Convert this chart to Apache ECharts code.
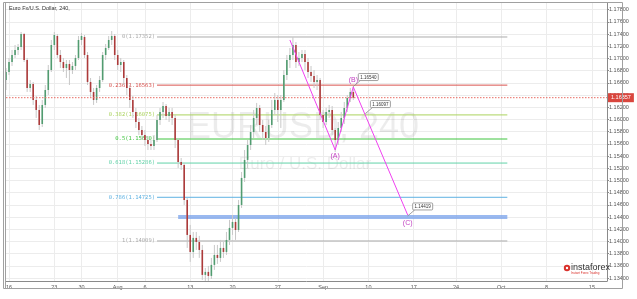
<!DOCTYPE html>
<html><head><meta charset="utf-8">
<script src="https://cdn.jsdelivr.net/npm/echarts@6/dist/echarts.min.js"></script>
<style>html,body{margin:0;padding:0;background:#fff}#c{width:637px;height:299px}</style>
</head><body><div id="c"></div>
<script>
// ---------- data ----------
const categoryCount = 200;
const xTickIndex = [1,16,25,37,46,61,75,90,105,120,135,149,164,179,194];
const xTickLabels = ['16','23','30','Aug','6','13','20','27','Sep','10','17','24','Oct','8','15'];
const yTicks = [1.134,1.136,1.138,1.140,1.142,1.144,1.146,1.148,1.150,1.152,1.154,1.156,1.158,1.160,1.162,1.164,1.166,1.168,1.170,1.172,1.174,1.176,1.178];
const yMin = 1.13353, yMax = 1.17909;
// [open, close, low, high]
const candles = [
[1.16647,1.16778,1.16483,1.16844],[1.16778,1.16942,1.16729,1.17008],[1.16942,1.17057,1.16877,1.17139],[1.17057,1.17139,1.17008,1.17221],
[1.17139,1.17188,1.17057,1.17237],[1.17188,1.17401,1.17139,1.17434],[1.17401,1.16975,1.16942,1.17418],[1.16975,1.16516,1.16451,1.17008],
[1.16516,1.16582,1.16451,1.16647],[1.16582,1.16320,1.16238,1.16615],[1.16320,1.16156,1.16025,1.16385],[1.16156,1.15910,1.15828,1.16238],
[1.15926,1.16238,1.15877,1.16320],[1.16238,1.16483,1.16189,1.16565],[1.16483,1.16811,1.16401,1.16893],[1.16811,1.17221,1.16778,1.17303],
[1.17221,1.17385,1.17139,1.17434],[1.17368,1.17057,1.17008,1.17401],[1.17057,1.16942,1.16844,1.17139],[1.16942,1.16844,1.16778,1.17008],
[1.16844,1.16910,1.16680,1.16975],[1.16910,1.16811,1.16565,1.16975],[1.16811,1.16877,1.16746,1.16942],[1.16877,1.17008,1.16811,1.17057],
[1.17008,1.17303,1.16975,1.17368],[1.17303,1.17368,1.17221,1.17418],[1.17352,1.17057,1.17008,1.17385],[1.17057,1.16615,1.16565,1.17106],
[1.16615,1.16451,1.16369,1.16680],[1.16451,1.16320,1.16238,1.16516],[1.16320,1.16516,1.16271,1.16565],[1.16516,1.16647,1.16451,1.16713],
[1.16647,1.17057,1.16615,1.17106],[1.17057,1.17172,1.16975,1.17237],[1.17172,1.17303,1.17139,1.17368],[1.17303,1.17368,1.17221,1.17450],
[1.17368,1.17057,1.16975,1.17401],[1.17057,1.16893,1.16811,1.17139],[1.16893,1.16942,1.16778,1.17008],[1.16942,1.16680,1.16565,1.16975],
[1.16680,1.16516,1.16401,1.16729],[1.16516,1.16320,1.16189,1.16565],[1.16320,1.16123,1.16025,1.16385],[1.16123,1.15959,1.15861,1.16189],
[1.15959,1.15828,1.15746,1.16025],[1.15828,1.15746,1.15664,1.15893],[1.15746,1.15664,1.15566,1.15828],[1.15664,1.15599,1.15500,1.15730],
[1.15599,1.15566,1.15500,1.15664],[1.15566,1.15664,1.15500,1.15746],[1.15664,1.15992,1.15631,1.16074],[1.15992,1.16123,1.15910,1.16189],
[1.16123,1.16221,1.16025,1.16287],[1.16221,1.16058,1.15992,1.16254],[1.16058,1.16123,1.15959,1.16189],[1.16123,1.16025,1.15910,1.16189],
[1.16025,1.15664,1.15533,1.16074],[1.15664,1.15304,1.15205,1.15697],[1.15304,1.15255,1.15173,1.15369],[1.15255,1.14681,1.14599,1.15288],
[1.14681,1.14108,1.13895,1.14714],[1.14108,1.13829,1.13666,1.14272],[1.13829,1.14059,1.13731,1.14157],[1.14059,1.13993,1.13862,1.14157],
[1.13993,1.13862,1.13731,1.14092],[1.13862,1.13453,1.13371,1.13944],[1.13453,1.13502,1.13354,1.13567],[1.13502,1.13436,1.13354,1.13600],
[1.13436,1.13617,1.13387,1.13731],[1.13617,1.13780,1.13535,1.13944],[1.13780,1.13731,1.13633,1.13944],[1.13731,1.13895,1.13666,1.14026],
[1.13895,1.13829,1.13731,1.13993],[1.13829,1.14026,1.13780,1.14157],[1.14026,1.14223,1.13944,1.14354],[1.14223,1.14321,1.14108,1.14435],
[1.14321,1.14189,1.14026,1.14386],[1.14189,1.14599,1.14157,1.14681],[1.14599,1.15042,1.14550,1.15140],[1.15042,1.15337,1.14976,1.15500],
[1.15337,1.15582,1.15205,1.15664],[1.15582,1.15795,1.15500,1.15910],[1.15795,1.16025,1.15697,1.16156],[1.16025,1.16189,1.15910,1.16271],
[1.16189,1.15910,1.15795,1.16238],[1.15910,1.15795,1.15664,1.15992],[1.15795,1.15697,1.15582,1.15893],[1.15697,1.15910,1.15631,1.15992],
[1.15910,1.16156,1.15861,1.16320],[1.16156,1.16320,1.16074,1.16434],[1.16320,1.16156,1.15959,1.16401],[1.16156,1.16320,1.15861,1.16401],
[1.16320,1.16729,1.16287,1.16811],[1.16729,1.16975,1.16647,1.17057],[1.16975,1.17057,1.16844,1.17172],[1.17057,1.17221,1.16975,1.17352],
[1.17221,1.16942,1.16844,1.17270],[1.16942,1.17008,1.16877,1.17106],[1.17008,1.17073,1.16942,1.17139],[1.17073,1.16942,1.16811,1.17139],
[1.16942,1.16778,1.16680,1.17008],[1.16778,1.16713,1.16615,1.16877],[1.16713,1.16615,1.16516,1.16811],[1.16615,1.16647,1.16483,1.16729],
[1.16647,1.16074,1.15992,1.16680],[1.16074,1.15959,1.15861,1.16156],[1.15959,1.16123,1.15910,1.16189],[1.16123,1.16156,1.16025,1.16238],
[1.16156,1.15828,1.15746,1.16221],[1.15828,1.15664,1.15468,1.15861],[1.15664,1.15861,1.15582,1.15959],[1.15861,1.16025,1.15795,1.16123],
[1.16025,1.16189,1.15926,1.16287],[1.16189,1.16352,1.16123,1.16401],[1.16352,1.16451,1.16287,1.16516],[1.16451,1.16357,1.16320,1.16549]
];
const fibRatios = ['0','0.236','0.382','0.5','0.618','0.786','1'];
const fibPrices = [1.17352,1.16563,1.16075,1.15680,1.15286,1.14725,1.14009];
const fibColors = ['#ababab','#d9534f','#abd35e','#3fc43f','#62d2a8','#5fb2e2','#ababab'];
const fibStart = 50, fibEnd = 166;
const supportBand = [1.14369, 1.14435];
const bandStart = 57;
const currentPrice = 1.16357;
const waveX = [94,109,115,133];
const waveY = [1.17303,1.15500,1.16533,1.14435];
const waveLabels = ['','(A)','(B)','(C)'];
const calloutX = [115,119,133];
const calloutY = [1.16540,1.16097,1.14419];

// ---------- chart ----------
const categories = Array.from({length: categoryCount}, (_, i) => {
  const k = xTickIndex.indexOf(i); return k >= 0 ? xTickLabels[k] : '';
});
const tickSet = new Set(xTickIndex);
const chart = echarts.init(document.getElementById('c'), null, {renderer: 'canvas'});
const fmt = v => Number(v).toFixed(5);
const hiddenSym = {symbol: 'circle', symbolSize: 0.01, showSymbol: true, showAllSymbol: true};

const fibSeries = fibPrices.map((p, k) => Object.assign({
  type: 'line', name: 'fib' + fibRatios[k], z: 2, silent: true,
  lineStyle: {color: fibColors[k], width: 1},
  itemStyle: {color: fibColors[k]},
  data: [
    {value: [fibStart, p], label: {show: true, position: 'left', distance: 2, formatter: fibRatios[k] + '(' + fmt(p) + ')',
      color: fibColors[k], fontSize: 5.5, fontFamily: 'DejaVu Sans Mono'}},
    {value: [fibEnd, p]}
  ]
}, hiddenSym));

const option = {
  animation: false,
  grid: {left: 6, right: 30, top: 3, bottom: 18, show: false},
  xAxis: {
    type: 'category', data: categories, boundaryGap: false,
    axisLine: {show: true, lineStyle: {color: '#8a8a8a'}},
    axisTick: {show: false},
    axisLabel: {interval: (i) => tickSet.has(i), fontSize: 5.5, color: '#555', margin: 3, fontFamily: 'Liberation Sans'},
    splitLine: {show: true, interval: (i) => tickSet.has(i), lineStyle: {color: '#ececec', width: 1}}
  },
  yAxis: {
    type: 'value', position: 'right', min: yMin, max: yMax, scale: true,
    axisLine: {show: true, lineStyle: {color: '#8a8a8a'}},
    axisTick: {show: true, length: 2, customValues: yTicks, lineStyle: {color: '#8a8a8a'}},
    axisLabel: {customValues: yTicks, formatter: fmt, fontSize: 5.5, color: '#555', margin: 2, fontFamily: 'Liberation Sans'},
    splitLine: {show: true, customValues: yTicks, lineStyle: {color: '#ececec', width: 1}}
  },
  series: fibSeries.concat([
    Object.assign({
      type: 'line', name: 'price', z: 4, silent: true,
      lineStyle: {color: '#e86a62', width: 1, type: [1.5, 1.5]},
      itemStyle: {color: '#e86a62'},
      data: [
        {value: [0, currentPrice]},
        {value: [categoryCount - 1, currentPrice], label: {show: true, position: 'right', distance: 1, formatter: fmt(currentPrice),
          color: '#fff', backgroundColor: '#d9463e', padding: [2, 3, 1, 3], fontSize: 5.5, fontFamily: 'Liberation Sans'}}
      ]
    }, hiddenSym),
    {
      type: 'custom', name: 'EURUSD',
      data: candles.map((d, i) => [i, d[0], d[1], d[2], d[3]]),
      encode: {x: 0, y: [1, 2, 3, 4]},
      clip: true, z: 3,
      renderItem: function (params, api) {
        const x = api.value(0);
        const o = api.coord([x, api.value(1)]);
        const c = api.coord([x, api.value(2)]);
        const l = api.coord([x, api.value(3)]);
        const h = api.coord([x, api.value(4)]);
        const up = api.value(2) >= api.value(1);
        const w = 1.6;
        const top = Math.min(o[1], c[1]);
        const hg = Math.max(1, Math.abs(o[1] - c[1]));
        return {type: 'group', children: [
          {type: 'line', shape: {x1: h[0], y1: h[1], x2: l[0], y2: l[1]}, style: {stroke: '#c8c8c8', lineWidth: 1}},
          {type: 'rect', shape: {x: o[0] - w / 2, y: top, width: w, height: hg}, style: {fill: up ? '#519c70' : '#ad3a3a'}}
        ]};
      },
      markArea: {
        silent: true,
        itemStyle: {color: 'rgba(120,162,235,0.75)'},
        data: [[{coord: [bandStart, supportBand[0]]}, {coord: [fibEnd, supportBand[1]]}]]
      }
    },
    Object.assign({
      type: 'line', name: 'wave', z: 5, silent: true,
      data: waveX.map((x, i) => ({value: [x, waveY[i]], label: {
        show: !!waveLabels[i], formatter: waveLabels[i], position: i === 2 ? 'top' : 'bottom', distance: i === 3 ? 5 : 3,
        color: '#c13fc1', fontSize: 7, fontFamily: 'Liberation Sans'}})),
      lineStyle: {color: '#f040f0', width: 1},
      itemStyle: {color: '#f040f0'}
    }, hiddenSym)
  ])
};
chart.setOption(option);

// watermark, title, frame, logo, callouts
const gfx = [
  {type: 'rect', shape: {x: 3.5, y: 2.5, width: 619, height: 286}, style: {fill: 'none', stroke: '#a0a0a0', lineWidth: 1}, z: 10, silent: true},
  {type: 'line', shape: {x1: 5.5, y1: 2.5, x2: 5.5, y2: 288.5}, style: {stroke: '#a0a0a0', lineWidth: 1}, z: 10},
  {type: 'text', x: 303, y: 128, style: {text: 'EURUSD, 240', fontSize: 36, fontFamily: 'Liberation Sans', fill: 'rgba(0,0,0,0.075)', align: 'center', verticalAlign: 'middle'}, z: 0, silent: true},
  {type: 'text', x: 305, y: 164, style: {text: 'Euro / U.S. Dollar', fontSize: 17, fontFamily: 'Liberation Sans', fill: 'rgba(0,0,0,0.075)', align: 'center', verticalAlign: 'middle'}, z: 0, silent: true},
  {type: 'text', x: 9, y: 5, style: {text: 'Euro Fx/U.S. Dollar, 240,', fontSize: 5.5, fontFamily: 'Liberation Sans', fill: '#333'}, z: 10},
  {type: 'circle', shape: {cx: 567, cy: 268, r: 3.2}, style: {fill: '#d9312b'}, z: 10},
  {type: 'circle', shape: {cx: 567, cy: 268, r: 1.2}, style: {fill: '#fff'}, z: 11},
  {type: 'text', x: 571, y: 263.5, style: {text: 'instaforex', fontSize: 9, fontFamily: 'Liberation Sans', fill: '#333'}, z: 10},
  {type: 'text', x: 571, y: 271.5, style: {text: 'Instant Forex Trading', fontSize: 3, fontFamily: 'Liberation Sans', fill: '#d9312b'}, z: 10}
];
calloutX.forEach((x, i) => {
  const p = chart.convertToPixel({xAxisIndex: 0, yAxisIndex: 0}, [x, calloutY[i]]);
  const bx = p[0] + 5, by = p[1] - 13;
  gfx.push({type: 'line', shape: {x1: p[0], y1: p[1], x2: bx + 2, y2: by + 7}, style: {stroke: '#888', lineWidth: 0.8}, z: 12});
  gfx.push({type: 'rect', shape: {x: bx, y: by, width: 20, height: 7, r: 1}, style: {fill: '#fff', stroke: '#888', lineWidth: 0.8}, z: 12});
  gfx.push({type: 'text', x: bx + 10, y: by + 3.8, style: {text: fmt(calloutY[i]), fontSize: 4.5, fontFamily: 'Liberation Sans', fill: '#333', align: 'center', verticalAlign: 'middle'}, z: 13});
});
chart.setOption({graphic: gfx});
</script>
</body></html>
